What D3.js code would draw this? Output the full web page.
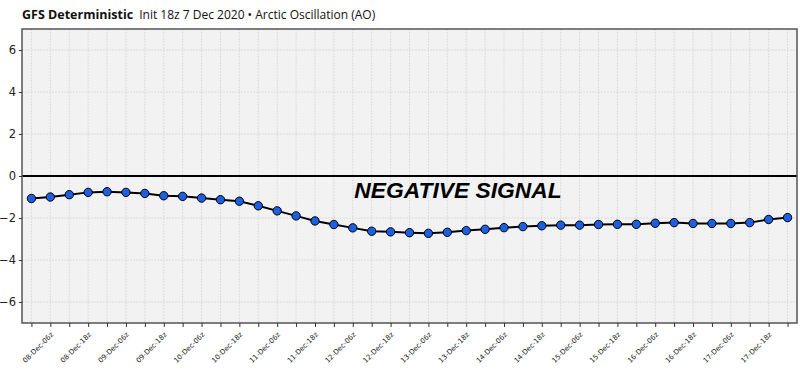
<!DOCTYPE html>
<html>
<head>
<meta charset="utf-8">
<script src="https://cdn.jsdelivr.net/npm/d3@7"></script>
<style>
  html, body { margin: 0; padding: 0; background: #fff; }
  svg { display: block; }
</style>
</head>
<body>
<svg id="chart" width="800" height="370"></svg>
<script>
// ---- data ----
const startDay = 8;            // 08-Dec 00z
const stepHours = 6;
const aoValues = [
  -1.07, -1.00, -0.89, -0.78, -0.75, -0.78, -0.83, -0.94, -0.97, -1.05,
  -1.13, -1.20, -1.42, -1.66, -1.90, -2.14, -2.31, -2.47, -2.63, -2.66,
  -2.70, -2.73, -2.68, -2.60, -2.54, -2.46, -2.41, -2.37, -2.34, -2.34,
  -2.31, -2.30, -2.30, -2.25, -2.22, -2.26, -2.26, -2.26, -2.22, -2.07,
  -1.98
];
const yTicks = [-6, -4, -2, 0, 2, 4, 6];
const titleBold = "GFS Deterministic";
const titleRest = "Init 18z 7 Dec 2020 \u2022 Arctic Oscillation (AO)";
const annotation = "NEGATIVE SIGNAL";

function timeLabel(i) {
  const h = i * stepHours;
  const day = startDay + Math.floor(h / 24);
  const hh = h % 24;
  return String(day).padStart(2, "0") + "-Dec-" + String(hh).padStart(2, "0") + "z";
}

// ---- layout ----
const svg = d3.select("#chart");
const L = 22, R = 797, T = 29, B = 323;

const x = d3.scaleLinear().domain([-0.5, aoValues.length - 0.5]).range([L, R]);
const y = d3.scaleLinear().domain([-7, 7]).range([B, T]);

// title
const title = svg.append("text").attr("x", 22).attr("y", 19)
  .style("font-family", "'Open Sans', sans-serif").style("font-size", "12.5px").attr("fill", "#111");
title.append("tspan").style("font-weight", "bold").text(titleBold);
title.append("tspan").attr("dx", 6).style("font-size", "12px").text(titleRest);

// plot background
svg.append("rect").attr("x", L).attr("y", T).attr("width", R - L).attr("height", B - T)
  .attr("fill", "#f2f2f2");

// grid
const idx = d3.range(aoValues.length);
svg.append("g").selectAll("line.v").data(idx).join("line")
  .attr("x1", d => x(d)).attr("x2", d => x(d)).attr("y1", T).attr("y2", B)
  .attr("stroke", "#dcdcdc").attr("stroke-width", 1).attr("stroke-dasharray", "2,1");
svg.append("g").selectAll("line.h").data(yTicks).join("line")
  .attr("x1", L).attr("x2", R).attr("y1", d => y(d)).attr("y2", d => y(d))
  .attr("stroke", "#dcdcdc").attr("stroke-width", 1).attr("stroke-dasharray", "2,1");

// zero line
svg.append("line").attr("x1", L).attr("x2", R).attr("y1", y(0)).attr("y2", y(0))
  .attr("stroke", "#000").attr("stroke-width", 2.2);

// annotation
svg.append("text").attr("x", 458).attr("y", y(-1) + 0.5)
  .attr("text-anchor", "middle")
  .style("font-family", "'Liberation Sans', Arial, sans-serif")
  .style("font-weight", "bold").style("font-style", "italic").style("font-size", "22.8px")
  .attr("fill", "#000").text(annotation);

// line + points
svg.append("path").datum(aoValues)
  .attr("d", d3.line().x((d, i) => x(i)).y(d => y(d)))
  .attr("fill", "none").attr("stroke", "#000").attr("stroke-width", 2);
svg.append("g").selectAll("circle").data(aoValues).join("circle")
  .attr("cx", (d, i) => x(i)).attr("cy", d => y(d)).attr("r", 4.2)
  .attr("fill", "#1c5fe0").attr("stroke", "#000").attr("stroke-width", 1);

// frame
svg.append("rect").attr("x", L).attr("y", T).attr("width", R - L).attr("height", B - T)
  .attr("fill", "none").attr("stroke", "#555").attr("stroke-width", 1.5);

// y axis
const yAxis = svg.append("g").attr("transform", `translate(${L},0)`)
  .call(d3.axisLeft(y).tickValues(yTicks).tickSize(3).tickPadding(3).tickFormat(d3.format("d")));
yAxis.select(".domain").remove();
yAxis.selectAll("line").attr("stroke", "#333");
yAxis.selectAll("text").style("font-family", "'DejaVu Sans', sans-serif").style("font-size", "11.5px").attr("fill", "#222");

// x axis
const xAxis = svg.append("g").attr("transform", `translate(0,${B})`)
  .call(d3.axisBottom(x).tickValues(idx).tickSize(4).tickFormat(i => i % 2 === 1 ? timeLabel(i) : ""));
xAxis.select(".domain").remove();
xAxis.selectAll("line").attr("stroke", "#333");
xAxis.selectAll("text")
  .style("font-family", "'DejaVu Sans', sans-serif").style("font-size", "7px").attr("fill", "#222")
  .attr("text-anchor", "end").attr("dy", null).attr("y", 0)
  .attr("transform", "translate(3,12) rotate(-45)");
</script>
</body>
</html>
